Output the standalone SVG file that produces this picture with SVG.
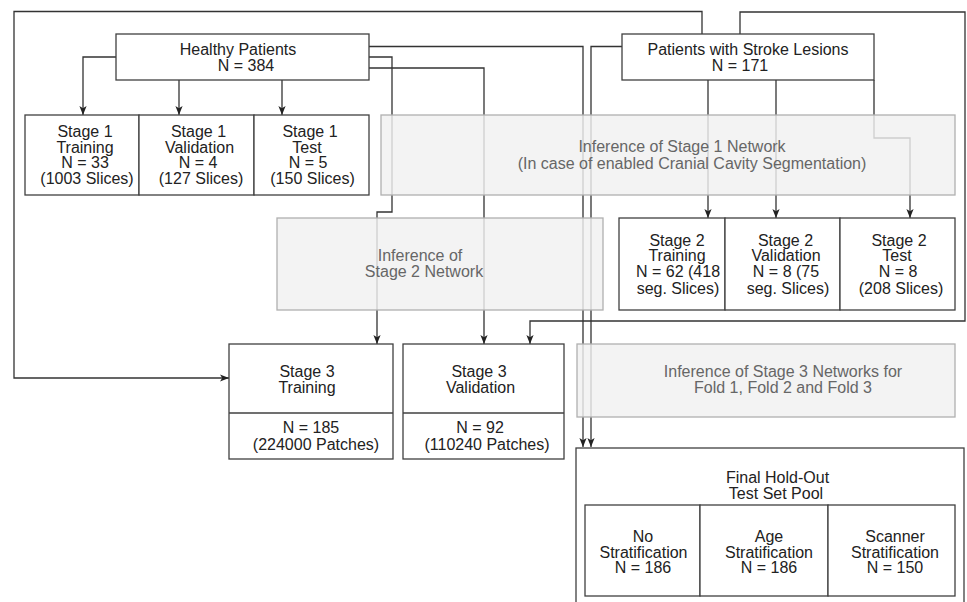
<svg xmlns="http://www.w3.org/2000/svg" width="967" height="602" viewBox="0 0 967 602">
<style>
  .box{fill:#fff;stroke:#404040;stroke-width:1.3}
  .inf{fill:#f0f0f0;fill-opacity:0.82;stroke:#b0b0b0;stroke-width:1.3}
  .t{font-family:"Liberation Sans",Arial,Helvetica,sans-serif;font-size:16px;fill:#222;text-anchor:middle}
  .ti{font-family:"Liberation Sans",Arial,Helvetica,sans-serif;font-size:16px;fill:#666;text-anchor:middle}
  .c{fill:none;stroke:#333;stroke-width:1.3}
</style>
<defs>
  <marker id="arr" viewBox="0 0 10 10" refX="10" refY="5" markerWidth="9" markerHeight="9" orient="auto" markerUnits="userSpaceOnUse">
    <path d="M0,1 L10,5 L0,9 L2.5,5 z" fill="#222"/>
  </marker>
</defs>
<rect width="967" height="602" fill="#fff"/>
<g id="connectors">
  <path class="c" d="M116,57 H83 V115" marker-end="url(#arr)"/>
  <path class="c" d="M179,80 V115" marker-end="url(#arr)"/>
  <path class="c" d="M282,80 V115" marker-end="url(#arr)"/>
  <path class="c" d="M369,57 H392 V212 H377 V344" marker-end="url(#arr)"/>
  <path class="c" d="M369,68 H484 V344" marker-end="url(#arr)"/>
  <path class="c" d="M369,46.5 H583 V447" marker-end="url(#arr)"/>
  <path class="c" d="M622,46.5 H591 V447" marker-end="url(#arr)"/>
  <path class="c" d="M702,34 V11.5 H14 V378 H229" marker-end="url(#arr)"/>
  <path class="c" d="M740,34 V12 H965 V321 H530 V344" marker-end="url(#arr)"/>
  <path class="c" d="M708,80 V218" marker-end="url(#arr)"/>
  <path class="c" d="M776,80 V218" marker-end="url(#arr)"/>
  <path class="c" d="M874,80 V138 H910 V218" marker-end="url(#arr)"/>
</g>
<g id="healthy">
  <rect class="box" x="116" y="34" width="253" height="46"/>
  <text class="t" x="238" y="55">Healthy Patients</text>
  <text class="t" x="246" y="71">N = 384</text>
</g>
<g id="stroke">
  <rect class="box" x="622" y="34" width="252" height="46"/>
  <text class="t" x="748" y="55">Patients with Stroke Lesions</text>
  <text class="t" x="740" y="71">N = 171</text>
</g>
<g id="stage1-training">
  <rect class="box" x="25" y="115" width="114" height="80"/>
  <text class="t" x="85" y="137">Stage 1</text>
  <text class="t" x="85" y="152.5">Training</text>
  <text class="t" x="85" y="168">N = 33</text>
  <text class="t" x="87" y="184">(1003 Slices)</text>
</g>
<g id="stage1-validation">
  <rect class="box" x="139" y="115" width="115" height="80"/>
  <text class="t" x="198.5" y="137">Stage 1</text>
  <text class="t" x="199.5" y="152.5">Validation</text>
  <text class="t" x="198" y="168">N = 4</text>
  <text class="t" x="201" y="184">(127 Slices)</text>
</g>
<g id="stage1-test">
  <rect class="box" x="254" y="115" width="115" height="80"/>
  <text class="t" x="310" y="137">Stage 1</text>
  <text class="t" x="307" y="152.5">Test</text>
  <text class="t" x="308" y="168">N = 5</text>
  <text class="t" x="312.5" y="184">(150 Slices)</text>
</g>
<g id="inference-stage1">
  <rect class="inf" x="381" y="115" width="574" height="80"/>
  <text class="ti" x="682" y="152">Inference of Stage 1 Network</text>
  <text class="ti" x="692" y="168.5">(In case of enabled Cranial Cavity Segmentation)</text>
</g>
<g id="inference-stage2">
  <rect class="inf" x="277" y="218" width="326" height="92"/>
  <text class="ti" x="420" y="260.5">Inference of</text>
  <text class="ti" x="424" y="277">Stage 2 Network</text>
</g>
<g id="stage2-training">
  <rect class="box" x="619" y="218" width="106" height="92"/>
  <text class="t" x="677" y="245.5">Stage 2</text>
  <text class="t" x="677" y="261">Training</text>
  <text class="t" x="678" y="277">N = 62 (418</text>
  <text class="t" x="678" y="293.5">seg. Slices)</text>
</g>
<g id="stage2-validation">
  <rect class="box" x="725" y="218" width="115" height="92"/>
  <text class="t" x="785.5" y="245.5">Stage 2</text>
  <text class="t" x="786" y="261">Validation</text>
  <text class="t" x="786" y="277">N = 8 (75</text>
  <text class="t" x="788" y="293.5">seg. Slices)</text>
</g>
<g id="stage2-test">
  <rect class="box" x="840" y="218" width="115" height="92"/>
  <text class="t" x="899" y="245.5">Stage 2</text>
  <text class="t" x="897" y="261">Test</text>
  <text class="t" x="898" y="277">N = 8</text>
  <text class="t" x="901" y="293.5">(208 Slices)</text>
</g>
<g id="stage3-training">
  <rect class="box" x="229" y="344" width="164" height="115"/>
  <line class="box" x1="229" y1="413" x2="393" y2="413"/>
  <text class="t" x="307" y="377">Stage 3</text>
  <text class="t" x="307" y="393">Training</text>
  <text class="t" x="311" y="433">N = 185</text>
  <text class="t" x="316" y="449.5">(224000 Patches)</text>
</g>
<g id="stage3-validation">
  <rect class="box" x="403" y="344" width="161" height="115"/>
  <line class="box" x1="403" y1="413" x2="564" y2="413"/>
  <text class="t" x="479" y="377">Stage 3</text>
  <text class="t" x="480.5" y="393">Validation</text>
  <text class="t" x="480" y="433">N = 92</text>
  <text class="t" x="487" y="449.5">(110240 Patches)</text>
</g>
<g id="inference-stage3">
  <rect class="inf" x="577" y="344" width="378" height="73"/>
  <text class="ti" x="783" y="377">Inference of Stage 3 Networks for</text>
  <text class="ti" x="783" y="393">Fold 1, Fold 2 and Fold 3</text>
</g>
<g id="final-holdout">
  <rect class="box" x="576" y="448" width="388" height="170"/>
  <text class="t" x="777.5" y="483">Final Hold-Out</text>
  <text class="t" x="776" y="498.5">Test Set Pool</text>
</g>
<g id="no-stratification">
  <rect class="box" x="585" y="505" width="115" height="91"/>
  <text class="t" x="643" y="542">No</text>
  <text class="t" x="643.5" y="557.5">Stratification</text>
  <text class="t" x="643" y="573">N = 186</text>
</g>
<g id="age-stratification">
  <rect class="box" x="700" y="505" width="128" height="91"/>
  <text class="t" x="769" y="542">Age</text>
  <text class="t" x="769" y="557.5">Stratification</text>
  <text class="t" x="769" y="573">N = 186</text>
</g>
<g id="scanner-stratification">
  <rect class="box" x="828" y="505" width="127" height="91"/>
  <text class="t" x="895" y="542">Scanner</text>
  <text class="t" x="895" y="557.5">Stratification</text>
  <text class="t" x="895" y="573">N = 150</text>
</g>
</svg>
